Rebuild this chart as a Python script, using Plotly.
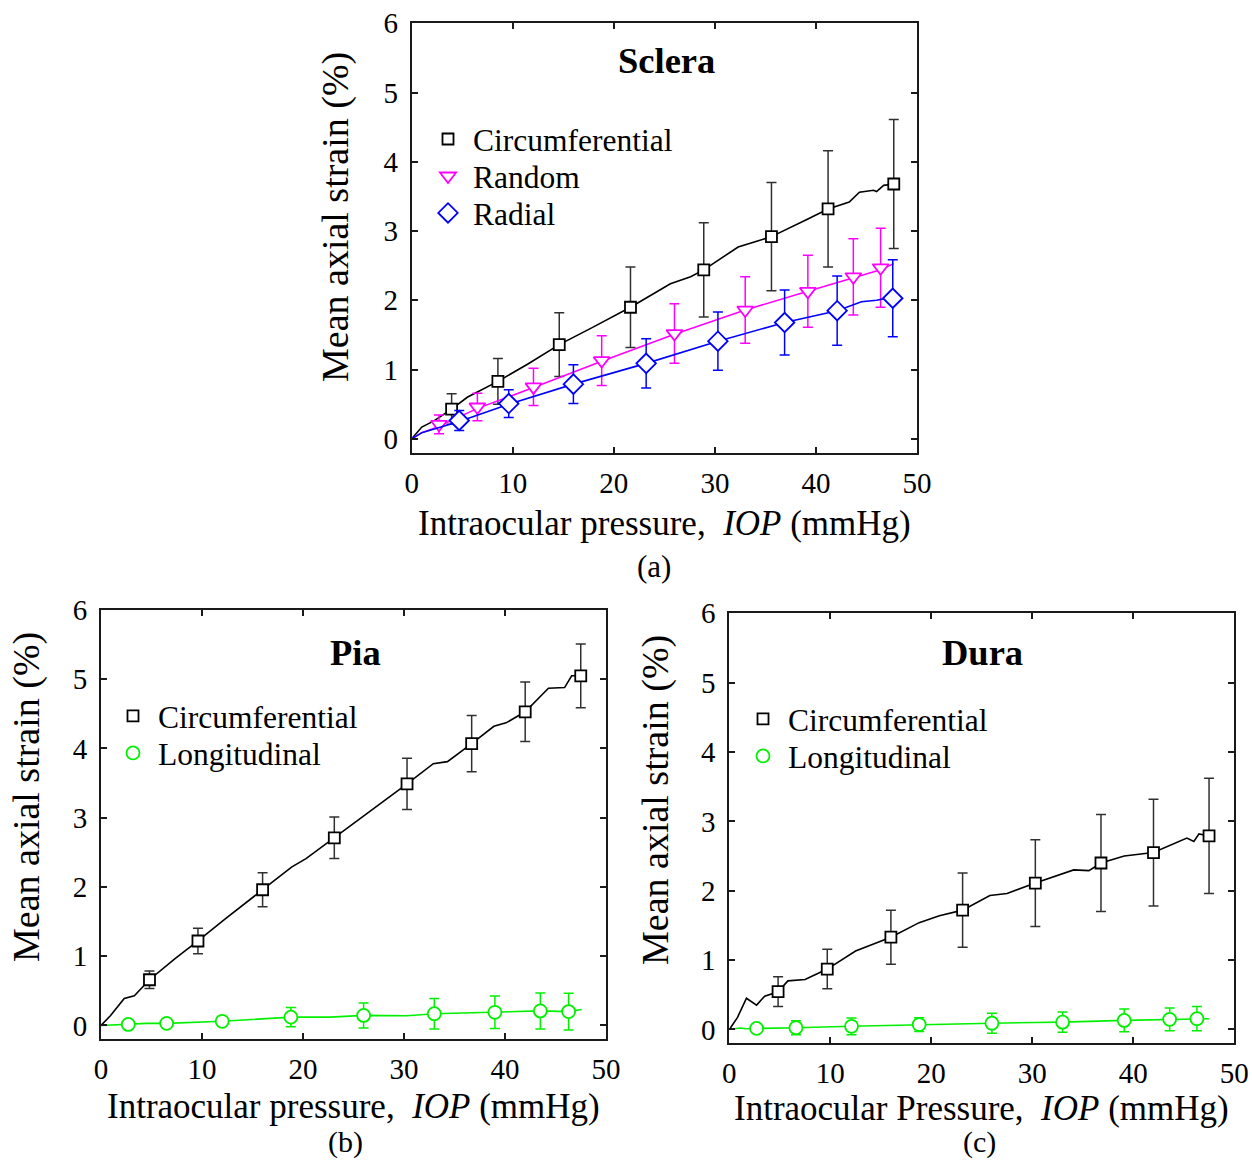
import plotly.graph_objects as go

# ---------------- data ----------------
# Panel (a) Sclera
a_circ_curve_x = [0, 1.0, 2.2, 3.95, 5.5, 8.53, 11.5, 14.6, 17.9, 21.65, 25.6, 27.6, 28.9, 32.3, 34.3, 35.6, 39.0, 41.2, 43.3, 44.3, 45.7, 46.0, 46.7, 47.7]
a_circ_curve_y = [0, 0.17, 0.26, 0.43, 0.60, 0.83, 1.08, 1.36, 1.61, 1.90, 2.24, 2.34, 2.44, 2.77, 2.86, 2.92, 3.16, 3.32, 3.42, 3.56, 3.59, 3.57, 3.66, 3.68]
a_circ_x = [3.95, 8.53, 14.6, 21.65, 28.9, 35.6, 41.2, 47.7]
a_circ_y = [0.43, 0.83, 1.36, 1.90, 2.44, 2.92, 3.32, 3.68]
a_circ_err = [0.22, 0.33, 0.46, 0.58, 0.68, 0.78, 0.84, 0.93]

a_rand_curve_x = [0, 1.0, 2.7, 6.5, 12.05, 18.8, 26.0, 33.0, 39.2, 43.7, 46.4, 47.7]
a_rand_curve_y = [0, 0.09, 0.18, 0.44, 0.74, 1.12, 1.51, 1.86, 2.13, 2.33, 2.44, 2.53]
a_rand_x = [2.7, 6.5, 12.05, 18.8, 26.0, 33.0, 39.2, 43.7, 46.4]
a_rand_y = [0.21, 0.46, 0.75, 1.13, 1.52, 1.86, 2.13, 2.34, 2.47]
a_rand_err = [0.135, 0.20, 0.27, 0.36, 0.43, 0.48, 0.52, 0.55, 0.57]

a_rad_curve_x = [0, 1.0, 4.7, 9.6, 16.0, 23.2, 30.3, 36.9, 42.1, 44.5, 46.0, 47.6]
a_rad_curve_y = [0, 0.09, 0.25, 0.50, 0.79, 1.09, 1.41, 1.68, 1.85, 1.98, 2.00, 2.05]
a_rad_x = [4.7, 9.6, 16.0, 23.2, 30.3, 36.9, 42.1, 47.6]
a_rad_y = [0.265, 0.51, 0.79, 1.09, 1.41, 1.68, 1.85, 2.03]
a_rad_err = [0.145, 0.20, 0.28, 0.355, 0.42, 0.47, 0.50, 0.555]

# Panel (b) Pia
b_circ_curve_x = [0, 0.93, 2.3, 3.3, 4.8, 7.3, 9.6, 12.3, 16.0, 18.9, 20.3, 23.1, 27.3, 30.3, 32.9, 34.3, 36.7, 38.9, 40.1, 42.0, 44.3, 45.9, 46.6, 47.5]
b_circ_curve_y = [0, 0.14, 0.39, 0.43, 0.66, 0.96, 1.22, 1.54, 1.96, 2.29, 2.41, 2.71, 3.16, 3.49, 3.78, 3.81, 4.07, 4.32, 4.37, 4.53, 4.87, 4.88, 5.05, 5.05]
b_circ_x = [4.8, 9.6, 16.0, 23.1, 30.3, 36.7, 42.0, 47.5]
b_circ_y = [0.66, 1.22, 1.96, 2.71, 3.49, 4.07, 4.53, 5.05]
b_circ_err = [0.125, 0.185, 0.245, 0.30, 0.37, 0.405, 0.43, 0.46]

b_long_curve_x = [0, 2.7, 4.5, 6.5, 12.0, 18.8, 22.7, 26.0, 30.3, 33.0, 39.0, 40.7, 43.5, 46.3, 47.6]
b_long_curve_y = [0, 0.015, 0.03, 0.03, 0.06, 0.12, 0.12, 0.145, 0.14, 0.17, 0.19, 0.20, 0.21, 0.20, 0.23]
b_long_x = [2.7, 6.5, 12.0, 18.8, 26.0, 33.0, 39.0, 43.5, 46.3]
b_long_y = [0.015, 0.03, 0.06, 0.12, 0.145, 0.17, 0.19, 0.21, 0.20]
b_long_err = [0.0, 0.02, 0.03, 0.14, 0.18, 0.22, 0.235, 0.26, 0.265]

# Panel (c) Dura
c_circ_curve_x = [0, 0.8, 1.7, 2.7, 3.5, 4.83, 5.8, 7.5, 9.7, 12.5, 16.0, 18.8, 20.8, 23.1, 25.8, 27.5, 30.3, 34.1, 35.6, 36.8, 39.1, 40.3, 42.0, 45.3, 46.0, 46.5, 47.5]
c_circ_curve_y = [0, 0.17, 0.45, 0.35, 0.48, 0.544, 0.70, 0.72, 0.87, 1.13, 1.33, 1.54, 1.64, 1.72, 1.93, 1.96, 2.11, 2.30, 2.29, 2.40, 2.50, 2.52, 2.55, 2.76, 2.71, 2.82, 2.79]
c_circ_x = [4.83, 9.7, 16.0, 23.1, 30.3, 36.8, 42.0, 47.5]
c_circ_y = [0.544, 0.87, 1.33, 1.72, 2.11, 2.40, 2.55, 2.79]
c_circ_err = [0.215, 0.285, 0.39, 0.535, 0.625, 0.70, 0.77, 0.83]

c_long_curve_x = [0, 1.0, 1.7, 2.7, 6.6, 12.1, 18.8, 26.0, 30.3, 33.0, 39.1, 43.6, 46.3, 47.5]
c_long_curve_y = [0, 0.02, 0.01, 0.015, 0.025, 0.045, 0.07, 0.09, 0.10, 0.105, 0.13, 0.145, 0.155, 0.155]
c_long_x = [2.7, 6.6, 12.1, 18.8, 26.0, 33.0, 39.1, 43.6, 46.3]
c_long_y = [0.015, 0.025, 0.045, 0.07, 0.09, 0.105, 0.13, 0.145, 0.155]
c_long_err = [0.02, 0.10, 0.12, 0.10, 0.145, 0.145, 0.165, 0.165, 0.175]

x_ticks = [0, 10, 20, 30, 40, 50]
y_ticks = [0, 1, 2, 3, 4, 5, 6]

# ---------------- styling ----------------
W, H = 1252, 1161
FONT = "Liberation Serif"
BLACK = "#000000"
ERRGREY = "#303030"
MAGENTA = "#FF00FF"
BLUE = "#0000FF"
GREEN = "#00F000"


def px(x):
    return x / W


def py(y):
    return 1 - y / H


fig = go.Figure()


def add_series(ax, cx, cy, mx, my, err, color, errcolor, symbol, size, name, legend):
    xa = "x" if ax == 1 else f"x{ax}"
    ya = "y" if ax == 1 else f"y{ax}"
    fig.add_trace(go.Scatter(x=cx, y=cy, mode="lines", line=dict(color=color, width=1.6),
                             xaxis=xa, yaxis=ya, showlegend=False, hoverinfo="skip"))
    fig.add_trace(go.Scatter(x=mx, y=my, mode="markers", name=name, legend=legend,
                             marker=dict(symbol=symbol, size=size, color="white",
                                         line=dict(color=color, width=1.8)),
                             error_y=dict(type="data", array=err, visible=True,
                                          color=errcolor, thickness=1.5, width=5),
                             xaxis=xa, yaxis=ya, showlegend=True))


add_series(1, a_circ_curve_x, a_circ_curve_y, a_circ_x, a_circ_y, a_circ_err, BLACK, ERRGREY, "square", 11, "Circumferential", "legend")
add_series(1, a_rand_curve_x, a_rand_curve_y, a_rand_x, a_rand_y, a_rand_err, MAGENTA, MAGENTA, "triangle-down", 14, "Random", "legend2")
add_series(1, a_rad_curve_x, a_rad_curve_y, a_rad_x, a_rad_y, a_rad_err, BLUE, BLUE, "diamond", 15, "Radial", "legend3")
add_series(2, b_circ_curve_x, b_circ_curve_y, b_circ_x, b_circ_y, b_circ_err, BLACK, ERRGREY, "square", 11, "Circumferential", "legend4")
add_series(2, b_long_curve_x, b_long_curve_y, b_long_x, b_long_y, b_long_err, GREEN, GREEN, "circle", 13, "Longitudinal", "legend5")
add_series(3, c_circ_curve_x, c_circ_curve_y, c_circ_x, c_circ_y, c_circ_err, BLACK, ERRGREY, "square", 11, "Circumferential", "legend6")
add_series(3, c_long_curve_x, c_long_curve_y, c_long_x, c_long_y, c_long_err, GREEN, GREEN, "circle", 13, "Longitudinal", "legend7")

# panel boxes (left, right, top, bottom) in pixels
boxes = {
    1: (411.7, 917.0, 23.3, 452.7),
    2: (101.0, 606.0, 610.0, 1039.3),
    3: (729.3, 1234.3, 613.3, 1043.3),
}

axis_common = dict(showline=True, linecolor="#1a1a1a", linewidth=2, mirror="ticks",
                   ticks="inside", ticklen=6, tickwidth=1.5, tickcolor="#1a1a1a",
                   showgrid=False, zeroline=False, automargin=False,
                   tickfont=dict(family=FONT, size=29, color=BLACK))

layout_axes = {}
for i, (l, r, t, b) in boxes.items():
    sfx = "" if i == 1 else str(i)
    layout_axes[f"xaxis{sfx}"] = dict(domain=[px(l), px(r)], range=[0, 50], tickvals=x_ticks,
                                      anchor=f"y{sfx}", ticklabelstandoff=3, **axis_common)
    layout_axes[f"yaxis{sfx}"] = dict(domain=[py(b), py(t)], range=[-0.2, 6], tickvals=y_ticks,
                                      anchor=f"x{sfx}", ticklabelstandoff=6, **axis_common)

fig.update_layout(**layout_axes)

annotations = []


def ann(text, x, y, size, angle=0, bold=False, yanchor="middle"):
    annotations.append(dict(text=f"<b>{text}</b>" if bold else text, x=px(x), y=py(y),
                            xref="paper", yref="paper", xanchor="center", yanchor=yanchor,
                            showarrow=False, textangle=angle,
                            font=dict(family=FONT, size=size, color=BLACK)))


xt = "Intraocular pressure,\u00a0 <i>IOP</i> (mmHg)"
xt_c = "Intraocular Pressure,\u00a0 <i>IOP</i> (mmHg)"
ann(xt, 664.5, 523, 35)
ann(xt, 353.5, 1106, 35)
ann(xt_c, 981.8, 1108, 35)
yt = "Mean axial strain (%)"
ann(yt, 335, 217, 38, angle=-90)
ann(yt, 26, 797, 38, angle=-90)
ann(yt, 655, 800, 38, angle=-90)
ann("(a)", 654, 566, 31)
ann("(b)", 345, 1161, 30, yanchor="bottom")
ann("(c)", 980, 1161, 30, yanchor="bottom")
ann("Sclera", 667, 60, 36.5, bold=True)
ann("Pia", 356, 652, 36.5, bold=True)
ann("Dura", 982, 652, 36.5, bold=True)

fig.update_layout(annotations=annotations)

# legends: one row each, positioned at symbol location
leg_rows = {
    "legend": (447, 139),
    "legend2": (447, 176),
    "legend3": (447, 213),
    "legend4": (132, 716),
    "legend5": (132, 753),
    "legend6": (762, 719),
    "legend7": (762, 756),
}
leg_cfg = {}
for k, (sx, sy) in leg_rows.items():
    leg_cfg[k] = dict(x=px(sx - 24), y=py(sy), xanchor="left", yanchor="middle",
                      bgcolor="rgba(0,0,0,0)", borderwidth=0, itemwidth=40,
                      font=dict(family=FONT, size=31.5, color=BLACK))
fig.update_layout(**leg_cfg)

fig.update_layout(width=W, height=H,
                  margin=dict(l=0, r=0, t=0, b=0, pad=0, autoexpand=False),
                  paper_bgcolor="white", plot_bgcolor="white")

fig.write_html("out.html")
